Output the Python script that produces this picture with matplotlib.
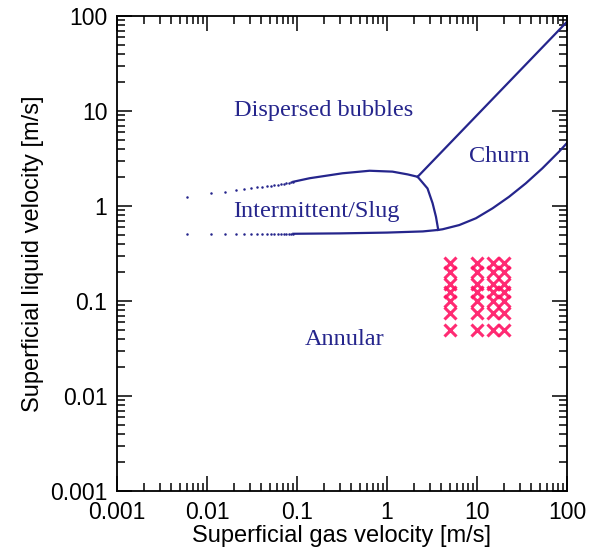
import numpy as np
import matplotlib
matplotlib.use("Agg")
import matplotlib.pyplot as plt

# ── flow-pattern boundaries ──────────────────────────────────────────────────
# dotted start of the bubble / slug boundary
upper_dot_x = [0.006, 0.011, 0.016, 0.021, 0.026, 0.031, 0.036, 0.041, 0.046,
               0.051, 0.056, 0.061, 0.066, 0.071, 0.076, 0.081, 0.086, 0.091]
upper_dot_y = [1.24, 1.36, 1.42, 1.47, 1.51, 1.54, 1.57, 1.59, 1.62,
               1.64, 1.66, 1.68, 1.70, 1.72, 1.74, 1.76, 1.78, 1.80]
upper_x = [0.091, 0.138, 0.32, 0.64, 1.15, 1.7, 2.19]
upper_y = [1.80, 1.96, 2.21, 2.35, 2.30, 2.15, 2.03]

# dotted start of the slug / annular boundary
lower_dot_x = upper_dot_x
lower_dot_y = [0.51] * len(upper_dot_x)
lower_x = [0.091, 0.3, 1.0, 2.5, 3.71, 4.15, 6.35, 9.73, 14.9, 22.7, 34.8,
           53.2, 81.5, 100.0]
lower_y = [0.51, 0.515, 0.525, 0.54, 0.56, 0.569, 0.63, 0.743, 0.946, 1.25,
           1.73, 2.49, 3.73, 4.6]

# bubble / churn boundary
churn_x = [2.19, 100.0]
churn_y = [2.03, 87.0]

# slug / churn boundary
split_x = [2.19, 2.82, 3.21, 3.50, 3.71]
split_y = [2.03, 1.53, 1.07, 0.77, 0.56]

# measured points
meas_x = [5, 10, 15, 20]
meas_y = [0.05, 0.075, 0.1, 0.125, 0.15, 0.2, 0.25]

labels = ["Dispersed bubbles", "Churn", "Intermittent/Slug", "Annular"]
label_x = [0.2, 17.6, 0.165, 0.337]
label_y = [10.0, 3.3, 0.865, 0.039]

ticks = [0.001, 0.01, 0.1, 1, 10, 100]
tick_labels = ["0.001", "0.01", "0.1", "1", "10", "100"]

navy = "#25258c"
pink = "#ff1464"

plt.rcParams["font.family"] = ["Liberation Sans", "DejaVu Sans"]

fig = plt.figure(figsize=(5.99, 5.56), dpi=100)
ax = fig.add_axes([117 / 599, 65 / 556, 450 / 599, 475 / 556])

ax.plot(upper_dot_x, upper_dot_y, ls="none", marker="o", ms=1.8,
        color=navy, mec="none")
ax.plot(lower_dot_x, lower_dot_y, ls="none", marker="o", ms=1.8,
        color=navy, mec="none")
ax.plot(upper_x, upper_y, color=navy, lw=1.6)
ax.plot(lower_x, lower_y, color=navy, lw=1.6)
ax.plot(churn_x, churn_y, color=navy, lw=1.6)
ax.plot(split_x, split_y, color=navy, lw=1.6)

mx, my = np.meshgrid(meas_x, meas_y)
ax.plot(mx.ravel(), my.ravel(), ls="none", marker="x", ms=9, mew=2.2,
        color=pink, alpha=0.9)

for txt, tx, ty in zip(labels, label_x, label_y):
    ax.text(tx, ty, txt, ha="center", va="center", color=navy, fontsize=17.5,
            family=["Liberation Serif", "DejaVu Serif"])

ax.set_xscale("log")
ax.set_yscale("log")
ax.set_xlim(0.001, 100)
ax.set_ylim(0.001, 100)
ax.set_xticks(ticks)
ax.set_xticklabels(tick_labels)
ax.set_yticks(ticks)
ax.set_yticklabels(tick_labels)
ax.tick_params(which="both", direction="in", top=True, right=True,
               labelsize=16.5, width=1.1)
ax.tick_params(which="major", length=11, pad=7)
ax.tick_params(which="minor", length=6)
for s in ax.spines.values():
    s.set_linewidth(1.3)

ax.set_xlabel("Superficial gas velocity [m/s]", fontsize=17, labelpad=1)
ax.set_ylabel("Superficial liquid velocity [m/s]", fontsize=17, labelpad=4)

fig.savefig("out.png", dpi=100)
